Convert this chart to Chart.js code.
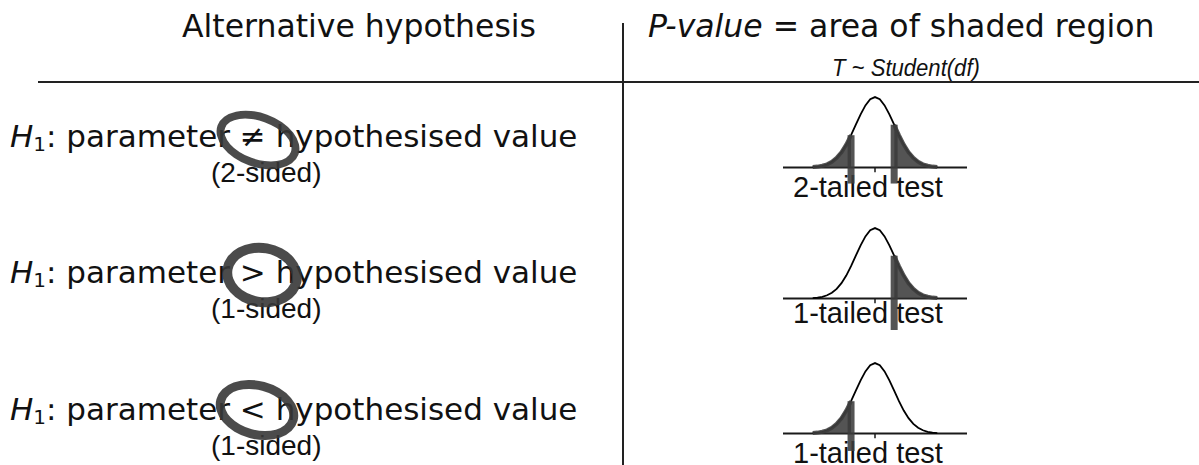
<!DOCTYPE html>
<html>
<head>
<meta charset="utf-8">
<script src="https://cdn.jsdelivr.net/npm/chart.js@4.4.1/dist/chart.umd.min.js"></script>
<style>
  html, body { margin: 0; padding: 0; background: #fff; }
  #page { position: relative; width: 1199px; height: 465px; overflow: hidden; background: #fff; color: #111; }
  .txt { position: absolute; white-space: nowrap; line-height: 1; }
  .verd { font-family: "DejaVu Sans", Verdana, sans-serif; }
  .arial { font-family: "Liberation Sans", Arial, sans-serif; }
  .rule { position: absolute; background: #222; }
  .ring { position: absolute; border-radius: 50%; border: 8px solid rgba(55,55,55,0.9); box-sizing: border-box; }
  canvas { position: absolute; }
  sub { font-size: 20px; vertical-align: -4px; line-height: 0; }
</style>
</head>
<body>
<div id="page">
  <div class="txt verd" style="left:182px; top:11px; font-size:31.5px;">Alternative hypothesis</div>
  <div class="txt verd" style="left:648px; top:11px; font-size:31.5px;"><i>P-value</i> = area of shaded region</div>
  <div class="txt arial" style="left:832px; top:56px; font-size:24px; font-style:italic; transform:scaleX(0.92); transform-origin:left center;">T ~ Student(df)</div>
  <div class="rule" style="left:38px; top:81px; width:1161px; height:2px;"></div>
  <div class="rule" style="left:622px; top:23px; width:2px; height:442px;"></div>
</div>

<script>
const tValues = [-3.25, -3, -2.75, -2.5, -2.25, -2, -1.75, -1.5, -1.25, -1, -0.75, -0.5, -0.25,
                 0, 0.25, 0.5, 0.75, 1, 1.25, 1.5, 1.75, 2, 2.25, 2.5, 2.75, 3, 3.25];
const density = [0.005, 0.011, 0.023, 0.044, 0.080, 0.135, 0.216, 0.325, 0.458, 0.607, 0.755, 0.882, 0.969,
                 1.000, 0.969, 0.882, 0.755, 0.607, 0.458, 0.325, 0.216, 0.135, 0.080, 0.044, 0.023, 0.011, 0.005];

const signs = ['\u2260', '>', '<'];
const sidedLabels = ['(2-sided)', '(1-sided)', '(1-sided)'];
const testLabels = ['2-tailed test', '1-tailed test', '1-tailed test'];
const leftCuts = [-1.25, null, -1.25];
const rightCuts = [1, 1, null];
const cutDepths = [-0.23, -0.45, -0.25];
const axisMin = -4.8, axisMax = 4.8;

// row layout (pixels)
const rowText = [121, 257, 394];
const rowSided = [159, 295, 432];
const rowCanvasTop = [95, 226, 361];
const rowLabelTop = [173, 299, 439];
const rings = [
  { cx: 258, cy: 140, w: 86, h: 54, rot: 20, bw: 8 },
  { cx: 262, cy: 275, w: 80, h: 64, rot: 10, bw: 10 },
  { cx: 257, cy: 410, w: 84, h: 58, rot: 15, bw: 9 }
];

const page = document.getElementById('page');
const shade = 'rgba(60,60,60,0.88)';

function addText(html, cls, left, top, size) {
  const d = document.createElement('div');
  d.className = 'txt ' + cls;
  d.style.left = left + 'px';
  d.style.top = top + 'px';
  d.style.fontSize = size + 'px';
  d.innerHTML = html;
  page.appendChild(d);
  return d;
}

function curvePoints(filterFn) {
  return tValues.map((x, i) => ({ x: x, y: density[i] })).filter(p => filterFn(p.x));
}

function heightAt(x) {
  return density[tValues.indexOf(x)];
}

signs.forEach((sign, r) => {
  addText('<i>H</i><sub>1</sub>: parameter ' + sign + ' hypothesised value', 'verd', 10, rowText[r], 31);
  addText(sidedLabels[r], 'arial', 211, rowSided[r], 28);
  addText(testLabels[r], 'arial', 793, rowLabelTop[r], 29);

  const g = rings[r];
  const ring = document.createElement('div');
  ring.className = 'ring';
  ring.style.left = (g.cx - g.w / 2) + 'px';
  ring.style.top = (g.cy - g.h / 2) + 'px';
  ring.style.width = g.w + 'px';
  ring.style.height = g.h + 'px';
  ring.style.borderWidth = g.bw + 'px';
  ring.style.transform = 'rotate(' + g.rot + 'deg)';
  page.appendChild(ring);

  const canvas = document.createElement('canvas');
  canvas.width = 184;
  canvas.height = 104;
  canvas.style.left = '783px';
  canvas.style.top = rowCanvasTop[r] + 'px';
  canvas.style.width = '184px';
  canvas.style.height = '104px';
  page.appendChild(canvas);

  const datasets = [
    {
      label: 'density',
      data: curvePoints(() => true),
      borderColor: '#000', borderWidth: 1.8, order: 2
    },
    {
      label: 'baseline',
      data: [{ x: axisMin, y: 0 }, { x: axisMax, y: 0 }],
      borderColor: '#1a1a1a', borderWidth: 2, order: 3
    },
    {
      label: 'centre',
      data: [{ x: 0, y: 0 }, { x: 0, y: -0.07 }],
      borderColor: '#1a1a1a', borderWidth: 1.5, order: 3
    }
  ];

  [leftCuts[r], rightCuts[r]].forEach((cut, side) => {
    if (cut === null) return;
    const inTail = side === 0 ? (x => x <= cut) : (x => x >= cut);
    datasets.push({
      label: 'tail',
      data: curvePoints(inTail),
      borderColor: shade, borderWidth: 4,
      backgroundColor: shade, fill: 'origin', order: 1
    });
    datasets.push({
      label: 'cut',
      data: [{ x: cut, y: cutDepths[r] }, { x: cut, y: heightAt(cut) }],
      borderColor: shade, borderWidth: 7, order: 1
    });
  });

  datasets.forEach(ds => {
    ds.showLine = true;
    ds.pointRadius = 0;
    ds.tension = 0;
    ds.clip = false;
  });

  new Chart(canvas.getContext('2d'), {
    type: 'scatter',
    data: { datasets: datasets },
    options: {
      responsive: false,
      animation: false,
      devicePixelRatio: 1,
      layout: { padding: 0 },
      plugins: { legend: { display: false }, tooltip: { enabled: false } },
      scales: {
        x: { type: 'linear', min: axisMin, max: axisMax, display: false },
        y: { min: -0.45, max: 1.03, display: false }
      }
    }
  });
});
</script>
</body>
</html>
